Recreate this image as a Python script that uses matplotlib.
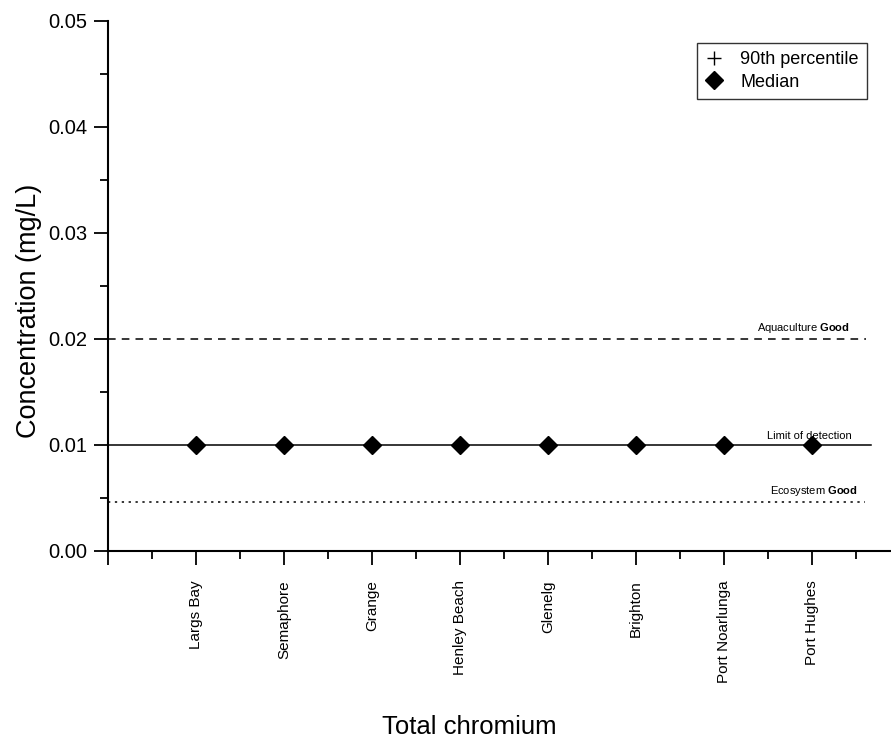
import matplotlib.pyplot as plt
from matplotlib.ticker import MultipleLocator

plt.rcParams['font.family'] = ['Liberation Sans', 'DejaVu Sans']
plt.rcParams['mathtext.fontset'] = 'custom'
plt.rcParams['mathtext.rm'] = 'Liberation Sans'
plt.rcParams['mathtext.bf'] = 'Liberation Sans:bold'

# Sites and total chromium results (mg/L)
sites = ["Largs Bay", "Semaphore", "Grange", "Henley Beach",
         "Glenelg", "Brighton", "Port Noarlunga", "Port Hughes"]
median = [0.01, 0.01, 0.01, 0.01, 0.01, 0.01, 0.01, 0.01]
p90 = [0.01, 0.01, 0.01, 0.01, 0.01, 0.01, 0.01, 0.01]

# Guideline levels
aquaculture_good = 0.02
limit_of_detection = 0.01
ecosystem_good = 0.0046

fig = plt.figure(figsize=(8.91, 7.38), dpi=100)
ax = fig.add_axes([108 / 891, 1 - 551 / 738, 1 - 108 / 891, 530 / 738])

x = list(range(1, len(sites) + 1))

ax.plot([0, 8.62], [aquaculture_good] * 2, color='black', lw=1.1,
        linestyle=(0, (5, 4)))
ax.plot([0, 8.67], [limit_of_detection] * 2, color='black', lw=1.1)
ax.plot([0, 8.61], [ecosystem_good] * 2, color='black', lw=1.1,
        linestyle=(0, (1.5, 3)))

ax.plot(x, p90, linestyle='none', marker='+', color='black', ms=10,
        label='90th percentile')
ax.plot(x, median, linestyle='none', marker='D', color='black', ms=9.5,
        label='Median', zorder=3)

ax.text(8.43, aquaculture_good + 0.0004, "Aquaculture $\\bf{Good}$",
        fontsize=8, ha='right', va='bottom')
ax.text(8.45, limit_of_detection + 0.0004, "Limit of detection",
        fontsize=8, ha='right', va='bottom')
ax.text(8.52, ecosystem_good + 0.0004, "Ecosystem $\\bf{Good}$",
        fontsize=8, ha='right', va='bottom')

ax.set_xticks(range(0, 9))
ax.set_xticklabels([""] + sites, rotation=90, fontsize=11)
ax.xaxis.set_minor_locator(MultipleLocator(0.5))
ax.set_yticks([0, 0.01, 0.02, 0.03, 0.04, 0.05])
ax.set_yticklabels(["0.00", "0.01", "0.02", "0.03", "0.04", "0.05"], fontsize=14.5)
ax.yaxis.set_minor_locator(MultipleLocator(0.005))

ax.set_xlim(0, 8.9)
ax.set_ylim(0, 0.05)

ax.tick_params(which='major', direction='out', length=10, width=1.3)
ax.tick_params(which='minor', direction='out', length=6, width=1.3)
ax.tick_params(axis='x', which='major', pad=11)
ax.tick_params(axis='y', which='major', pad=5)

for side in ['top', 'right']:
    ax.spines[side].set_visible(False)
for side in ['left', 'bottom']:
    ax.spines[side].set_linewidth(1.5)

ax.set_ylabel("Concentration (mg/L)", fontsize=19.5)
ax.yaxis.set_label_coords(-0.084, 0.453)
ax.set_xlabel("Total chromium", fontsize=18.5)
ax.xaxis.set_label_coords(0.462, -0.31)

leg = ax.legend(loc='upper right', bbox_to_anchor=(0.9693, 0.9585),
                bbox_transform=ax.transAxes, fontsize=13, frameon=True,
                fancybox=False, edgecolor='black', handlelength=1.0,
                borderpad=0.45, borderaxespad=0, labelspacing=0.3,
                handletextpad=0.95)
leg.get_frame().set_linewidth(1.0)

fig.savefig("out.png", dpi=100)
